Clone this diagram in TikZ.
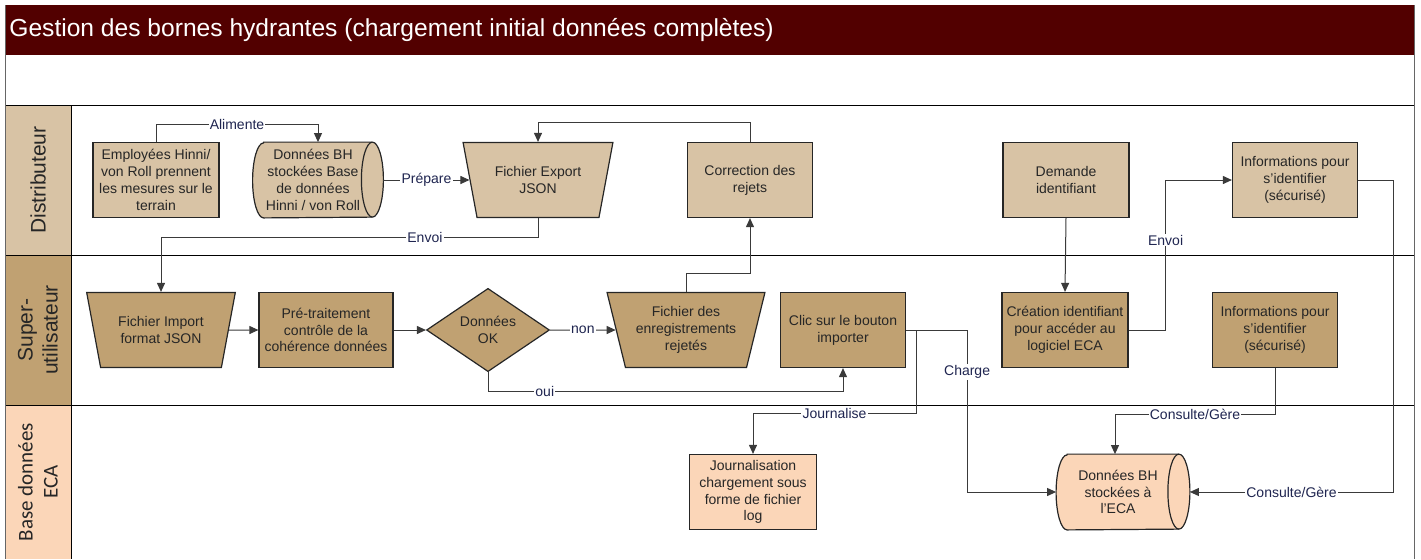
\documentclass[tikz,border=0pt]{standalone}
\usepackage{fontspec}
\setmainfont{Liberation Sans}
\newfontfamily\carlitofnt{Carlito}
\usetikzlibrary{shapes.geometric,arrows.meta}
\definecolor{titlebg}{HTML}{520000}
\definecolor{distfill}{HTML}{D8C3A5}
\definecolor{superfill}{HTML}{C0A172}
\definecolor{ecafill}{HTML}{FBD6B8}
\definecolor{linecol}{HTML}{3A3A3A}
\definecolor{labcol}{HTML}{1F2550}
\definecolor{txtcol}{HTML}{262626}
\newcommand{\nodefnt}{\fontsize{7}{8.4}\selectfont}
\newcommand{\lanefnt}{\fontsize{10.5}{12.5}\selectfont}
\newcommand{\cylpath}[2]{%
  \filldraw[fill=#2, draw=black!85, line width=0.6pt]
    ([xshift=5.5pt]#1.north west) -- ([xshift=-5.5pt]#1.north east)
    arc[start angle=90, end angle=-90, x radius=5.5pt, y radius=18.75pt]
    -- ([xshift=5.5pt]#1.south west)
    arc[start angle=270, end angle=90, x radius=5.5pt, y radius=18.75pt] -- cycle;
  \draw[draw=black!85, line width=0.6pt] ([xshift=-5.5pt]#1.north east)
    arc[start angle=90, end angle=270, x radius=5.5pt, y radius=18.75pt];}
\begin{document}
\begin{tikzpicture}[x=0.5pt,y=-0.5pt,
  every node/.style={text=txtcol},
  base/.style={draw=black!85, line width=0.6pt, inner sep=1pt, align=center, font=\nodefnt, minimum height=37.5pt},
  box/.style={base, rectangle, minimum width=62.5pt},
  cyl/.style={rectangle, inner sep=1pt, align=center, font=\nodefnt, minimum height=37.5pt, minimum width=65pt},
  trap/.style={base, trapezium, trapezium stretches=true, trapezium left angle=108.4, trapezium right angle=108.4, minimum width=75pt},
  dia/.style={base, diamond, inner sep=0pt, minimum width=61.5pt},
  arr/.style={draw=linecol, line width=0.5pt, -{Triangle[length=4.5pt,width=4pt]}},
  lab/.style={fill=white, inner sep=0.6pt, font=\nodefnt, text=labcol},
  lane/.style={line width=0.5pt, draw=black}
]
\useasboundingbox (0,0) rectangle (1421,559);
% frame and lanes
\fill[titlebg] (5,5) rectangle (1414,55);
\node[anchor=west, text=white, font=\fontsize{12.3}{14}\selectfont, inner sep=0pt] (title) at (9,30) {Gestion des bornes hydrantes (chargement initial données complètes)};
\fill[distfill] (5,105) rectangle (71,255);
\fill[superfill] (5,255) rectangle (71,405);
\fill[ecafill] (5,405) rectangle (71,559);
\draw[lane] (5,105) -- (1414,105);
\draw[lane] (5,255) -- (1414,255);
\draw[lane] (5,405) -- (1414,405);
\draw[lane] (71,105) -- (71,559);
\draw[lane, draw=black!60] (5,5) -- (5,559);
\draw[lane, draw=black!60] (1414,5) -- (1414,559);
\node[rotate=90, font=\lanefnt, align=center] (l1) at (38,180) {Distributeur};
\node[rotate=90, font=\lanefnt, align=center] (l2) at (38,330) {Super-\\utilisateur};
\node[rotate=90, font=\carlitofnt\lanefnt, align=center] (l3) at (38,482) {Base données\\ECA};

% cylinders (shape drawn from named placeholder nodes)
\path (318,180) coordinate (c1) (1123,492) coordinate (c2);
\node[cyl] (bh1) at (c1) {};
\node[cyl, minimum width=66.5pt] (bh2) at (c2) {};
\cylpath{bh1}{distfill}
\cylpath{bh2}{ecafill}
\node[cyl, text=txtcol, minimum width=0pt] (bh1t) at ([xshift=-2.5pt]bh1.center) {Données BH\\stockées Base\\de données\\Hinni / von Roll};
\node[cyl, text=txtcol, minimum width=0pt] (bh2t) at ([xshift=-2.5pt]bh2.center) {Données BH\\stockées à\\l’ECA};

% Distributeur lane
\node[box, fill=distfill, minimum width=63pt] (emp) at (156,180) {Employées Hinni/\\von Roll prennent\\les mesures sur le\\terrain};
\node[trap, fill=distfill] (exp) at (538,180) {Fichier Export\\JSON};
\node[box, fill=distfill] (cor) at (750,180) {Correction des\\rejets};
\node[box, fill=distfill, minimum width=63pt] (dem) at (1066,180) {Demande\\identifiant};
\node[box, fill=distfill] (info1) at (1295,180) {Informations pour\\s’identifier\\(sécurisé)};

% Super-utilisateur lane
\node[trap, fill=superfill, minimum width=74.5pt] (imp) at (161,330) {Fichier Import\\format JSON};
\node[box, fill=superfill, minimum width=67pt] (pre) at (326,330) {Pré-traitement\\contrôle de la\\cohérence données};
\node[dia, fill=superfill] (ok) at (488,330) {Données\\OK};
\node[trap, fill=superfill, minimum width=79.5pt, trapezium left angle=107.4, trapezium right angle=107.4] (rej) at (686,330) {Fichier des\\enregistrements\\rejetés};
\node[box, fill=superfill] (clic) at (843,330) {Clic sur le bouton\\importer};
\node[box, fill=superfill, minimum width=63pt] (cre) at (1065,330) {Création identifiant\\pour accéder au\\logiciel ECA};
\node[box, fill=superfill] (info2) at (1275,330) {Informations pour\\s’identifier\\(sécurisé)};

% ECA lane
\node[box, fill=ecafill, minimum width=63.5pt] (jour) at (753,492) {Journalisation\\chargement sous\\forme de fichier\\log};

% connectors
\draw[arr] (emp.north) |- node[lab,pos=0.75]{Alimente} ([yshift=9pt]bh1.north) -- (bh1.north);
\draw[arr] (bh1.east) -- node[lab]{Prépare} (exp);
\draw[arr] (cor.north) |- ([yshift=9.5pt]exp.north) -- (exp.north);
\draw[arr] (exp.south) -- ++(0,19) -| node[lab,pos=0.15]{Envoi} (imp.north);
\draw[arr] (imp) -- (pre);
\draw[arr] (pre) -- (ok);
\draw[arr] (ok) -- node[lab]{non} (rej);
\draw[arr] (ok.south) -- ++(0,19) -| node[lab,pos=0.08]{oui} (clic.south);
\draw[arr] (rej.north) -- ++(0,-18) -| (cor.south);
\draw[arr] (clic.east) -- ++(10,0) |- node[lab,pos=0.75]{Journalise} ([yshift=20pt]jour.north) -- (jour.north);
\draw[arr] (clic.east) -- ++(61,0) |- node[lab,pos=0.13]{Charge} (bh2.west);
\draw[arr] (dem.south) -- (cre.north);
\draw[arr] (cre.east) -- ++(37,0) |- node[lab,pos=0.3]{Envoi} (info1.west);
\draw[arr] (info1.east) -- ++(35,0) |- node[lab,pos=0.75]{Consulte/Gère} (bh2.east);
\draw[arr] (info2.south) |- node[lab,pos=0.75]{Consulte/Gère} ([xshift=-4pt,yshift=20pt]bh2.north) -- ([xshift=-4pt]bh2.north);
\end{tikzpicture}
\end{document}
